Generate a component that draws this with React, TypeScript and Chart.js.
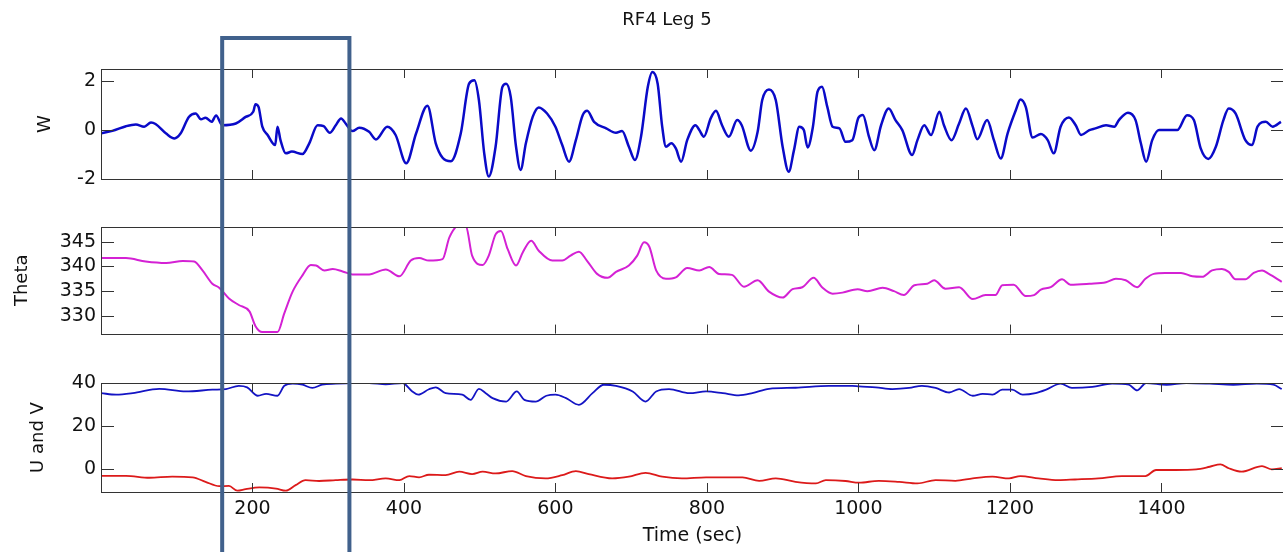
import React, { useEffect, useRef } from "react";
import { Chart, registerables } from "chart.js";

Chart.register(...registerables);

const FONT = "DejaVu Sans";

// ---- axes ----
const X_MIN = 0;
const X_MAX = 1562;
const X_TICKS = [200, 400, 600, 800, 1000, 1200, 1400];
const X_TICK_LABELS = ["200", "400", "600", "800", "1000", "1200", "1400"];

const W_TICKS = [-2, 0, 2];
const W_TICK_LABELS = ["-2", "0", "2"];
const THETA_TICKS = [330, 335, 340, 345];
const THETA_TICK_LABELS = ["330", "335", "340", "345"];
const UV_TICKS = [0, 20, 40];
const UV_TICK_LABELS = ["0", "20", "40"];

// highlighted interval (sec)
const BOX_START = 160;
const BOX_END = 328;

// ---- W ----
const W_TIME = [0, 15, 33, 46, 57, 66, 72, 86, 97, 105, 116, 125, 132, 138, 146, 152, 160, 178, 191, 201, 204, 208, 213, 220, 230, 233, 237, 244, 252, 266, 275, 286, 294, 302, 310, 317, 323, 332, 341, 354, 363, 378, 389, 403, 416, 431, 442, 451, 462, 475, 486, 493, 499, 506, 512, 521, 530, 535, 541, 548, 554, 561, 570, 578, 589, 600, 609, 618, 627, 636, 642, 651, 667, 680, 688, 697, 705, 713, 722, 728, 735, 741, 746, 753, 759, 766, 774, 785, 790, 796, 805, 812, 820, 829, 840, 846, 858, 867, 873, 882, 891, 900, 908, 915, 922, 928, 933, 940, 946, 952, 959, 966, 975, 983, 992, 1000, 1006, 1014, 1021, 1030, 1040, 1049, 1058, 1071, 1078, 1087, 1096, 1107, 1113, 1123, 1133, 1142, 1151, 1157, 1170, 1179, 1188, 1197, 1208, 1214, 1221, 1230, 1241, 1250, 1258, 1267, 1278, 1287, 1294, 1305, 1313, 1327, 1338, 1344, 1356, 1366, 1373, 1380, 1388, 1397, 1410, 1421, 1434, 1443, 1452, 1462, 1472, 1482, 1489, 1498, 1511, 1520, 1527, 1538, 1547, 1558];
const W_VALUES = [-0.13, -0.03, 0.16, 0.23, 0.14, 0.31, 0.25, -0.14, -0.34, -0.14, 0.54, 0.68, 0.44, 0.51, 0.34, 0.6, 0.2, 0.27, 0.54, 0.75, 1.06, 0.95, 0.14, -0.2, -0.61, 0.14, -0.41, -0.95, -0.88, -0.98, -0.54, 0.2, 0.16, -0.11, 0.2, 0.48, 0.27, -0.04, 0.1, -0.07, -0.38, 0.14, -0.2, -1.36, -0.14, 1.0, -0.54, -1.13, -1.27, -0.14, 1.9, 2.04, 1.22, -0.95, -1.9, -0.68, 1.77, 1.9, 1.36, -0.68, -1.63, -0.54, 0.54, 0.93, 0.68, 0.14, -0.61, -1.29, -0.41, 0.61, 0.79, 0.34, 0.07, -0.11, -0.04, -0.68, -1.22, -0.27, 1.77, 2.38, 1.9, 0.14, -0.68, -0.54, -0.75, -1.29, -0.41, 0.2, 0, -0.27, 0.48, 0.79, 0.2, -0.27, 0.41, 0.2, -0.84, -0.07, 1.22, 1.66, 1.22, -0.68, -1.7, -0.82, 0.14, 0, -0.71, 0.14, 1.56, 1.77, 0.95, 0.14, 0.07, -0.48, -0.41, 0.5, 0.62, -0.27, -0.82, 0.2, 0.88, 0.41, 0, -1.02, -0.41, 0.2, -0.2, 0.75, 0.2, -0.41, 0.27, 0.88, 0.14, -0.37, 0.41, -0.41, -1.16, -0.14, 0.82, 1.25, 0.95, -0.3, -0.16, -0.41, -0.95, 0.14, 0.52, 0.2, -0.2, 0, 0.07, 0.2, 0.14, 0.41, 0.71, 0.41, -0.54, -1.29, -0.41, 0, 0, 0, 0.61, 0.41, -0.75, -1.18, -0.68, 0.41, 0.88, 0.68, -0.41, -0.61, 0.14, 0.34, 0.14, 0.34];

// ---- Theta ----
const THETA_TIME = [0, 33, 59, 86, 108, 123, 134, 147, 156, 169, 182, 196, 204, 213, 233, 242, 253, 266, 277, 284, 295, 306, 319, 332, 354, 376, 394, 409, 420, 433, 451, 460, 473, 482, 490, 504, 512, 521, 528, 537, 548, 557, 568, 578, 596, 609, 620, 631, 642, 655, 669, 680, 697, 708, 717, 724, 733, 746, 759, 774, 790, 803, 816, 833, 849, 867, 882, 900, 913, 926, 941, 952, 966, 979, 999, 1012, 1032, 1047, 1060, 1074, 1091, 1100, 1115, 1133, 1151, 1168, 1181, 1190, 1205, 1221, 1232, 1241, 1254, 1269, 1280, 1305, 1327, 1340, 1353, 1368, 1379, 1390, 1405, 1426, 1441, 1454, 1467, 1480, 1489, 1498, 1511, 1522, 1533, 1542, 1559];
const THETA_VALUES = [341.7, 341.7, 341.0, 340.7, 341.1, 341.0, 339.2, 336.5, 335.7, 333.5, 332.2, 330.9, 327.9, 326.7, 326.7, 330.5, 334.9, 338.2, 340.3, 340.2, 339.2, 339.5, 339.0, 338.4, 338.4, 339.4, 338.0, 341.2, 341.7, 341.2, 341.5, 345.9, 348.3, 348.1, 342.2, 340.3, 342.2, 346.5, 347.2, 343.5, 340.2, 342.9, 345.2, 343.2, 341.2, 341.2, 342.2, 343.0, 341.1, 338.5, 337.7, 338.9, 340.2, 342.2, 344.9, 344.0, 339.2, 337.5, 337.8, 339.7, 339.2, 339.9, 338.5, 338.3, 335.9, 337.2, 334.9, 333.7, 335.4, 335.8, 337.7, 335.8, 334.5, 334.7, 335.4, 335.0, 335.7, 335.0, 334.2, 336.2, 336.5, 337.2, 335.5, 335.8, 333.4, 334.2, 334.2, 336.2, 336.3, 334.0, 334.2, 335.3, 335.8, 337.4, 336.3, 336.5, 336.8, 337.5, 337.2, 335.8, 337.5, 338.5, 338.7, 338.7, 338.0, 337.9, 339.2, 339.5, 338.9, 337.4, 337.4, 338.7, 339.2, 338.5, 336.9];

// ---- U ----
const U_TIME = [0, 20, 42, 77, 112, 147, 165, 182, 193, 207, 218, 233, 242, 253, 266, 279, 292, 310, 332, 354, 376, 398, 411, 419, 433, 442, 455, 477, 488, 499, 508, 517, 535, 549, 559, 574, 588, 600, 614, 631, 649, 664, 680, 702, 719, 733, 750, 777, 799, 821, 842, 860, 882, 917, 961, 992, 1001, 1023, 1045, 1067, 1084, 1102, 1120, 1133, 1151, 1164, 1177, 1190, 1203, 1217, 1234, 1248, 1267, 1282, 1309, 1335, 1357, 1368, 1380, 1407, 1433, 1464, 1495, 1526, 1548, 1559];
const U_VALUES = [35.3, 34.6, 35.3, 37.3, 36.1, 36.9, 37.2, 38.7, 38.0, 34.1, 35.0, 34.1, 38.7, 39.7, 39.2, 37.7, 39.2, 39.7, 40, 40, 39.4, 40, 36.1, 34.6, 37.1, 38.0, 35.3, 34.6, 32.2, 37.3, 35.3, 33.0, 31.4, 36.1, 32.2, 31.4, 34.1, 34.6, 33.0, 29.9, 35.3, 39.2, 38.7, 36.1, 31.4, 36.1, 37.2, 35.3, 36.1, 35.3, 34.3, 35.3, 37.3, 37.8, 38.7, 38.7, 38.4, 38.0, 37.2, 37.7, 38.7, 37.7, 35.6, 37.2, 34.1, 35.0, 34.6, 36.9, 36.9, 34.6, 35.3, 36.9, 39.7, 37.7, 38.2, 39.7, 39.2, 36.6, 40, 39.2, 40, 39.7, 39.2, 39.7, 39.2, 37.2];

// ---- V ----
const V_TIME = [0, 33, 64, 94, 121, 138, 156, 169, 180, 191, 209, 231, 244, 257, 270, 288, 310, 332, 354, 376, 394, 407, 420, 433, 455, 473, 490, 504, 521, 543, 561, 587, 609, 627, 644, 675, 697, 719, 741, 767, 799, 821, 847, 869, 891, 917, 944, 957, 983, 1001, 1027, 1054, 1078, 1102, 1128, 1151, 1177, 1199, 1214, 1238, 1264, 1286, 1317, 1348, 1379, 1393, 1419, 1446, 1464, 1478, 1489, 1506, 1533, 1546, 1559];
const V_VALUES = [-3.0, -3.0, -3.9, -3.4, -3.7, -5.8, -7.8, -7.7, -9.9, -9.2, -8.4, -8.9, -9.9, -7.3, -5.0, -5.4, -5.0, -4.7, -5.0, -4.2, -5.0, -3.1, -3.7, -2.5, -2.7, -1.1, -2.2, -1.1, -1.9, -0.8, -3.1, -4.2, -2.7, -0.8, -2.2, -4.2, -3.4, -1.6, -3.4, -4.2, -3.7, -3.7, -3.7, -5.3, -4.2, -5.8, -6.5, -5.0, -5.4, -6.2, -5.3, -5.8, -6.5, -5.0, -5.3, -4.2, -3.4, -4.2, -3.1, -4.2, -5.0, -4.7, -4.2, -3.1, -3.1, -0.3, -0.3, 0, 1.2, 2.3, 0.5, -1.1, 1.5, 0, 0.5];

const pts = (t: number[], v: number[]) => t.map((x, i) => ({ x, y: v[i] }));

const CANVAS_W = 1284;
const BOX_COLOR = "#41618c";
const AXIS_COLOR = "#333333";
const TEXT_COLOR = "#111111";

function makeFramePlugin(yTicks: number[], boxTop: number | null) {
  return {
    id: "frame",
    afterDraw(chart: any) {
      const { ctx, chartArea: a, scales } = chart;
      const x = scales.x;
      const y = scales.y;
      ctx.save();
      ctx.strokeStyle = AXIS_COLOR;
      ctx.lineWidth = 1;
      ctx.strokeRect(Math.round(a.left) + 0.5, Math.round(a.top) + 0.5, Math.round(a.right - a.left), Math.round(a.bottom - a.top));
      ctx.beginPath();
      X_TICKS.forEach((v) => {
        const px = Math.round(x.getPixelForValue(v)) + 0.5;
        ctx.moveTo(px, a.top);
        ctx.lineTo(px, a.top + 9);
        ctx.moveTo(px, a.bottom);
        ctx.lineTo(px, a.bottom - 9);
      });
      yTicks.forEach((v) => {
        const py = Math.round(y.getPixelForValue(v)) + 0.5;
        ctx.moveTo(a.left, py);
        ctx.lineTo(a.left + 13, py);
        ctx.moveTo(a.right, py);
        ctx.lineTo(a.right - 13, py);
      });
      ctx.stroke();

      // highlight box
      const b1 = x.getPixelForValue(BOX_START);
      const b2 = x.getPixelForValue(BOX_END);
      ctx.strokeStyle = BOX_COLOR;
      ctx.lineWidth = 4;
      ctx.lineJoin = "miter";
      ctx.beginPath();
      if (boxTop !== null) {
        ctx.moveTo(b1, chart.height);
        ctx.lineTo(b1, boxTop);
        ctx.lineTo(b2, boxTop);
        ctx.lineTo(b2, chart.height);
      } else {
        ctx.moveTo(b1, 0);
        ctx.lineTo(b1, chart.height);
        ctx.moveTo(b2, 0);
        ctx.lineTo(b2, chart.height);
      }
      ctx.stroke();
      ctx.restore();
    },
  };
}

type PanelProps = {
  top: number;
  height: number;
  padTop: number;
  padBottom: number;
  datasets: any[];
  yMin: number;
  yMax: number;
  yTicks: number[];
  yTickLabels: string[];
  yTitle: string;
  yTitlePad: number;
  showX: boolean;
  boxTop: number | null;
};

function Panel(p: PanelProps) {
  const ref = useRef<HTMLCanvasElement>(null);
  useEffect(() => {
    if (!ref.current) return;
    const chart = new Chart(ref.current, {
      type: "line",
      data: { datasets: p.datasets },
      options: {
        animation: false,
        responsive: false,
        devicePixelRatio: 1,
        layout: { padding: { top: p.padTop, bottom: p.padBottom, left: 0, right: 0 } },
        plugins: { legend: { display: false }, tooltip: { enabled: false }, title: { display: false } },
        elements: { point: { radius: 0 } },
        scales: {
          x: {
            type: "linear",
            min: X_MIN,
            max: X_MAX,
            display: p.showX,
            afterBuildTicks: (s: any) => {
              s.ticks = X_TICKS.map((v) => ({ value: v }));
            },
            afterFit: (s: any) => {
              if (p.showX) s.height = 60;
            },
            grid: { display: false, drawTicks: false },
            border: { display: false },
            ticks: {
              autoSkip: false,
              maxRotation: 0,
              padding: 6,
              color: TEXT_COLOR,
              font: { family: FONT, size: 19 },
              callback: (_v: any, i: number) => X_TICK_LABELS[i],
            },
            title: {
              display: p.showX,
              text: "Time (sec)",
              color: TEXT_COLOR,
              font: { family: FONT, size: 19 },
              padding: { top: 0, bottom: 5 },
            },
          },
          y: {
            type: "linear",
            min: p.yMin,
            max: p.yMax,
            afterBuildTicks: (s: any) => {
              s.ticks = p.yTicks.map((v) => ({ value: v }));
            },
            afterFit: (s: any) => {
              s.width = 101;
            },
            grid: { display: false, drawTicks: false },
            border: { display: false },
            ticks: {
              padding: 5,
              color: TEXT_COLOR,
              font: { family: FONT, size: 19 },
              callback: (_v: any, i: number) => p.yTickLabels[i],
            },
            title: {
              display: true,
              text: p.yTitle,
              color: TEXT_COLOR,
              font: { family: FONT, size: 18 },
              padding: { top: p.yTitlePad, bottom: 0 },
            },
          },
        },
      },
      plugins: [makeFramePlugin(p.yTicks, p.boxTop)],
    } as any);
    return () => chart.destroy();
  }, []);
  return (
    <div style={{ position: "absolute", left: 0, top: p.top, width: CANVAS_W, height: p.height }}>
      <canvas ref={ref} width={CANVAS_W} height={p.height} style={{ display: "block" }} />
    </div>
  );
}

const lineDs = (label: string, t: number[], v: number[], color: string, width: number) => ({
  label,
  data: pts(t, v),
  borderColor: color,
  backgroundColor: color,
  borderWidth: width,
  pointRadius: 0,
  fill: false,
  cubicInterpolationMode: "monotone",
});

export default function App() {
  return (
    <div
      style={{
        position: "absolute",
        left: 0,
        top: 0,
        width: 1283,
        height: 552,
        overflow: "hidden",
        background: "#ffffff",
      }}
    >
      <div
        style={{
          position: "absolute",
          left: 567,
          top: 8,
          width: 200,
          textAlign: "center",
          fontFamily: FONT,
          fontSize: 18,
          lineHeight: "21px",
          color: TEXT_COLOR,
          whiteSpace: "nowrap",
          zIndex: 2,
        }}
      >
        RF4 Leg 5
      </div>
      <Panel
        top={0}
        height={200}
        padTop={69}
        padBottom={21}
        datasets={[lineDs("W", W_TIME, W_VALUES, "#0a0ac8", 2.5)]}
        yMin={-2}
        yMax={2.5}
        yTicks={W_TICKS}
        yTickLabels={W_TICK_LABELS}
        yTitle="W"
        yTitlePad={35}
        showX={false}
        boxTop={38}
      />
      <Panel
        top={200}
        height={150}
        padTop={27}
        padBottom={14}
        datasets={[lineDs("Theta", THETA_TIME, THETA_VALUES, "#d421d4", 2.0)]}
        yMin={326.4}
        yMax={348}
        yTicks={THETA_TICKS}
        yTickLabels={THETA_TICK_LABELS}
        yTitle="Theta"
        yTitlePad={12}
        showX={false}
        boxTop={null}
      />
      <Panel
        top={350}
        height={202}
        padTop={33}
        padBottom={0}
        datasets={[
          lineDs("U", U_TIME, U_VALUES, "#1414c4", 1.8),
          lineDs("V", V_TIME, V_VALUES, "#dc1a1a", 1.8),
        ]}
        yMin={-10.5}
        yMax={40}
        yTicks={UV_TICKS}
        yTickLabels={UV_TICK_LABELS}
        yTitle="U and V"
        yTitlePad={28}
        showX={true}
        boxTop={null}
      />
    </div>
  );
}
